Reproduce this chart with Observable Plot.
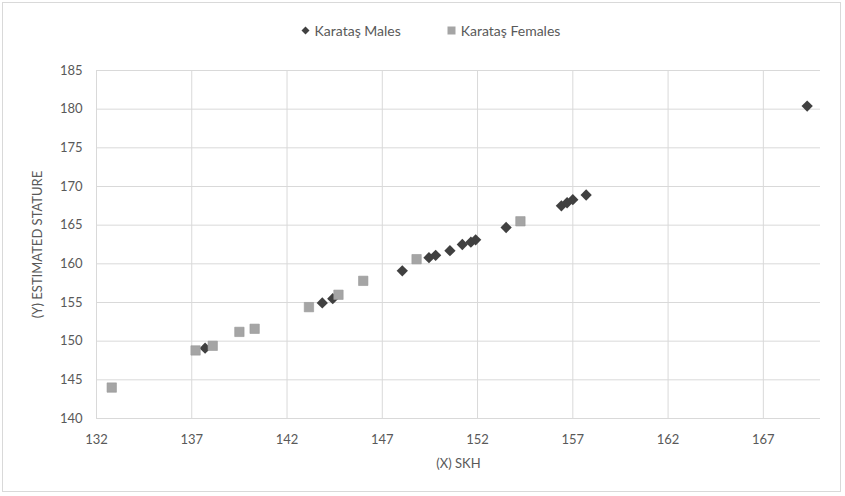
<!DOCTYPE html>
<html>
<head>
<meta charset="utf-8">
<script src="https://cdn.jsdelivr.net/npm/d3@7"></script>
<script src="https://cdn.jsdelivr.net/npm/@observablehq/plot@0.6"></script>
<style>
  html, body { margin: 0; padding: 0; background: #fff; }
  #wrap { position: relative; width: 845px; height: 496px; font-family: Lato, "Open Sans", sans-serif; color: #595959; }
  #frame { position: absolute; left: 2px; top: 2px; width: 839px; height: 490px; border: 1px solid #d9d9d9; box-sizing: border-box; pointer-events: none; }
  #legend { height: 50px; display: flex; justify-content: center; align-items: flex-start; gap: 46px; font-size: 14px; padding-top: 22px; box-sizing: border-box; padding-left: 16px; }
  #legend span.item { display: inline-flex; align-items: center; gap: 5px; }
</style>
</head>
<body>
<div id="wrap">
  <div id="frame"></div>
  <div id="legend"></div>
  <div id="chart"></div>
</div>
<script>
// Data
const seriesNames = ["Karataş Males", "Karataş Females"];
const maleSKH     = [137.7, 143.85, 144.4, 148.05, 149.45, 149.8, 150.55, 151.2, 151.65, 151.9, 153.5, 156.4, 156.7, 157.0, 157.7, 169.3];
const maleStature = [149.1, 154.95, 155.5, 159.1, 160.8, 161.1, 161.7, 162.5, 162.8, 163.1, 164.7, 167.5, 167.9, 168.3, 168.9, 180.4];
const femaleSKH     = [132.8, 137.2, 138.1, 139.5, 140.3, 143.15, 144.7, 146.0, 148.8, 154.25];
const femaleStature = [144.0, 148.8, 149.4, 151.2, 151.6, 154.4, 156.0, 157.8, 160.6, 165.5];
const xTicks = [132, 137, 142, 147, 152, 157, 162, 167];
const yTicks = [140, 145, 150, 155, 160, 165, 170, 175, 180, 185];

const males = maleSKH.map((x, i) => ({x, y: maleStature[i]}));
const females = femaleSKH.map((x, i) => ({x, y: femaleStature[i]}));

const diamond = {
  draw(ctx, size) {
    const r = Math.sqrt(size / 2);
    ctx.moveTo(0, -r); ctx.lineTo(r, 0); ctx.lineTo(0, r); ctx.lineTo(-r, 0); ctx.closePath();
  }
};

const maleColor = "#404040";
const femaleColor = "#a5a5a5";

// legend
const legend = document.getElementById("legend");
legend.innerHTML =
  `<span class="item"><svg width="9" height="9"><path d="M4.5,0.5L8.5,4.5L4.5,8.5L0.5,4.5Z" fill="${maleColor}"/></svg>${seriesNames[0]}</span>` +
  `<span class="item"><svg width="9" height="9"><rect x="0.5" y="0.5" width="8" height="8" fill="${femaleColor}"/></svg>${seriesNames[1]}</span>`;

const chart = Plot.plot({
  width: 845,
  height: 446,
  marginTop: 20,
  marginBottom: 78,
  marginLeft: 96,
  marginRight: 25,
  style: {fontFamily: "Lato, 'Open Sans', sans-serif", fontSize: "13px", color: "#595959", background: "transparent", overflow: "visible"},
  x: {domain: [132, 170]},
  y: {domain: [140, 185]},
  marks: [
    Plot.gridX(xTicks, {stroke: "#d9d9d9", strokeOpacity: 1}),
    Plot.gridY(yTicks, {stroke: "#d9d9d9", strokeOpacity: 1}),
    Plot.axisX(xTicks, {tickSize: 0, tickPadding: 16, label: "(X) SKH", labelAnchor: "center", labelArrow: "none", labelOffset: 49}),
    Plot.axisY(yTicks, {tickSize: 0, tickPadding: 14, label: "(Y) ESTIMATED STATURE", labelAnchor: "center", labelArrow: "none", labelOffset: 64}),
    Plot.dot(males, {x: "x", y: "y", symbol: diamond, r: 4.5, fill: maleColor}),
    Plot.dot(females, {x: "x", y: "y", symbol: "square", r: 5.3, fill: femaleColor, stroke: "#989898", strokeWidth: 0.6})
  ]
});
document.getElementById("chart").appendChild(chart);
</script>
</body>
</html>
